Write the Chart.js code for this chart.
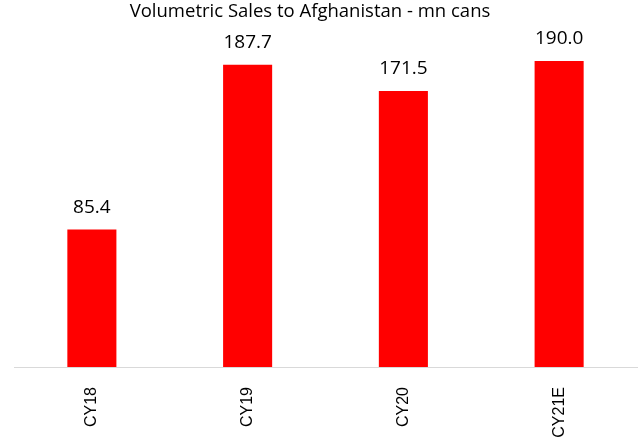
<!DOCTYPE html>
<html>
<head>
<meta charset="utf-8">
<script src="https://cdn.jsdelivr.net/npm/chart.js@4"></script>
<style>
    html, body { margin: 0; padding: 0; background: #fff; }
    #wrap { width: 640px; height: 438px; }
</style>
</head>
<body>
<div id="wrap"><canvas id="chart"></canvas></div>
<script>
const categories = ['CY18', 'CY19', 'CY20', 'CY21E'];
const sales = [85.4, 187.7, 171.5, 190.0];
const yMin = 0;
const yMax = 200;
const titleText = 'Volumetric Sales to Afghanistan - mn cans';

// title (slightly left of the plot centre, as in the source) + value labels above each bar
const barLabels = {
    id: 'barLabels',
    afterDatasetsDraw(chart) {
        const ctx = chart.ctx;
        const meta = chart.getDatasetMeta(0);
        ctx.save();
        ctx.fillStyle = '#000';
        ctx.textAlign = 'center';
        ctx.textBaseline = 'alphabetic';

        ctx.font = '18.5px "Open Sans", sans-serif';
        ctx.fillText(titleText, 310, 17);

        ctx.font = '19px "Open Sans", sans-serif';
        meta.data.forEach((bar, i) => {
            ctx.fillText(sales[i].toFixed(1), bar.x, bar.y - 17);
        });
        ctx.restore();
    }
};

new Chart(document.getElementById('chart'), {
    type: 'bar',
    data: {
        labels: categories,
        datasets: [{
            data: sales,
            backgroundColor: '#ff0000',
            borderWidth: 0,
            categoryPercentage: 1,
            barPercentage: 0.315
        }]
    },
    options: {
        responsive: true,
        maintainAspectRatio: false,
        animation: false,
        layout: { padding: { left: 14, right: 3, top: 45, bottom: 0 } },
        plugins: {
            legend: { display: false },
            tooltip: { enabled: false },
            title: { display: false }
        },
        scales: {
            x: {
                grid: { display: false },
                border: { display: true, color: '#d9d9d9', width: 1 },
                ticks: {
                    color: '#000',
                    font: { family: '"Liberation Sans", Arial, sans-serif', size: 16 },
                    minRotation: 90,
                    maxRotation: 90,
                    padding: 12
                },
                afterFit(scale) {
                    scale.height = 71; // keep the axis line where the reference has it
                }
            },
            y: {
                display: false,
                min: yMin,
                max: yMax
            }
        }
    },
    plugins: [barLabels]
});
</script>
</body>
</html>
